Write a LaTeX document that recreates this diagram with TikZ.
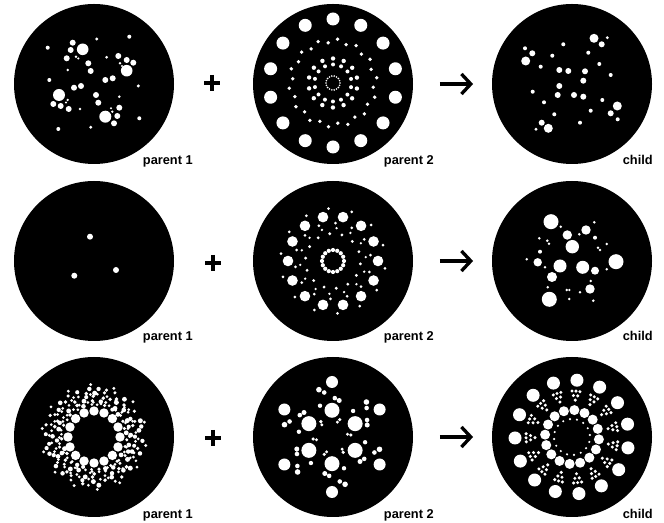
\documentclass[tikz,border=0pt]{standalone}
\usepackage{fontspec}
\setmainfont{Liberation Sans}
\usetikzlibrary{arrows.meta}

\tikzset{
  dish/.style={circle,fill=black,inner sep=0pt,minimum size=120pt},
  dot/.style={fill=white},
  lbl/.style={font=\bfseries\fontsize{9.6}{11}\selectfont,anchor=base east,inner sep=0pt},
  plus/.style={minimum size=12pt,inner sep=0pt,
    path picture={\draw[line width=3.4pt] (path picture bounding box.north) -- (path picture bounding box.south)
      (path picture bounding box.west) -- (path picture bounding box.east);}},
  arr/.style={line width=2.5pt,-{Straight Barb[length=7pt,width=15pt]},shorten <=20pt,shorten >=14pt},
}

\begin{document}
\begin{tikzpicture}[x=0.75pt,y=-0.75pt]
  \useasboundingbox (0,0) rectangle (664,523);
  % dishes
  \node[dish] (pa1) at (94,84) {};
  \node[dish] (pb1) at (333,84) {};
  \node[dish] (ch1) at (572,84) {};
  \node[dish] (pa2) at (94,261) {};
  \node[dish] (pb2) at (333,261) {};
  \node[dish] (ch2) at (572,261) {};
  \node[dish] (pa3) at (94,437) {};
  \node[dish] (pb3) at (333,437) {};
  \node[dish] (ch3) at (572,437) {};

  % row 1
  \foreach \x/\y/\r in {47.7/47.7/2,82.7/49.3/5.8,72.7/42.7/3,70.7/50/3,66.7/58.3/3,76/56.7/1.4,78.3/58.5/1.2,
    88.3/63.3/3,90.7/71/3,96.7/39/1.6,129.3/36.7/2,126.7/70.7/5.8,118.3/56/3,126.7/60/3,133.3/62.7/3,
    120/63.3/1.4,122/66/1.2,106.7/57.3/1.5,67.7/70/1.4,49.3/80/2,105.3/80/3,112.7/78.3/3,138.3/86/1.7,
    59/95/6,74/87.7/3,81/86/3,53.3/104/3,60.7/106/3,68.7/109/3,67.7/100/1.3,66/102.5/1.2,96/95/3,
    98.3/102.7/3,119.3/96.7/1.4,80/109/1.4,105.3/116.7/6,112.3/111.7/1.3,111/108.3/1.2,119.3/107.7/3,
    117.3/116/3,114/123.3/3,139.3/118.3/2,58.3/129/2,90.7/127.3/1.6}
    \fill[dot] (\x,\y) circle (\r);
  \begin{scope}[shift={(333,83)}]
    \foreach \k in {0,...,13} {
      \fill[dot] (90+\k*360/14:64) circle (6.5);
      \fill[dot] (\k*360/14+13:18.5) circle (2) (\k*360/14+13:24.5) circle (2.2);
    }
    \foreach \k in {0,...,27} {
      \pgfmathsetmacro\rr{mod(\k,2)==0 ? 40.5 : 44}
      \fill[dot] (\k*360/28+6:\rr) circle (1.9);
    }
    \foreach \k in {0,...,17} \fill[dot] (\k*20:7) circle (0.9);
  \end{scope}
  \foreach \x/\y/\r in {594/38.3/4.5,601.7/44.3/3,607.3/37.7/1.6,563.3/44.3/2,525/48.3/2,532.3/53.3/3,
    525.7/61/4.5,552.3/55.7/2,588.3/52.7/2,540.7/66.7/2,599.3/64/2,559.3/70/3,568.3/71/3,585/71.3/3,
    610.7/75/2,583.3/80.7/3,559.3/86/3,532.7/91.7/2,557.7/95/3,574/95/3,583.3/96.7/3,602.3/100/2,
    544/102.3/2,617.3/106/4.5,610.7/113.3/3,617.7/119.3/2,590.7/110.7/2,554.3/114.3/2,580/122.7/2,
    541.7/122.7/3,548.3/128.3/4.5,536/129.3/1.6}
    \fill[dot] (\x,\y) circle (\r);

  % row 2
  \foreach \x/\y in {90/236.7,74.3/275.7,116/270}
    \fill[dot] (\x,\y) circle (3);
  \begin{scope}[shift={(333,261)}]
    \foreach \k in {0,...,13} {
      \fill[dot] (\k*360/14:45) circle (5.3);
      \fill[dot] (\k*360/14+8:52.5) circle (1.5) (\k*360/14-9:38) circle (1.5);
      \fill[dot] (\k*360/14+6:27.5) circle (1.6) (\k*360/14+19:33) circle (1.3);
    }
    \foreach \k in {0,...,15} \fill[dot] (\k*22.5:11) circle (2.1);
  \end{scope}
  \foreach \x/\y/\r in {551/221.7/7.5,560.7/226.7/1.4,586/230/4.7,594.3/222.3/1.4,579.3/234.3/1.4,
    595/237.7/2,567.3/235/4.7,539.3/238.3/1.4,547.3/240.7/1.4,549/243.7/1.4,572.3/246.7/6.7,
    598/247.7/1.4,600/250/1.4,606.7/244/1.4,540/251.7/2,616/261.7/7.5,526.7/259.3/1.4,537.7/262.3/4.2,
    545/267.3/1.4,560/266/6.5,582.7/267.3/6.5,595/270.7/4,606.7/269.3/1.4,552/277/5,590.7/281/1.4,
    547.7/287.3/1.4,590/289/4.7,566.7/290/1.3,569.3/290/1.3,580/292.3/1.4,549.3/299.3/7.5,
    569.3/299/1.4,593.3/300.7/1.4}
    \fill[dot] (\x,\y) circle (\r);

  % row 3
  \begin{scope}[shift={(94,437)}]
    \foreach \k in {0,...,15} \fill[dot] (\k*22.5:26) circle (4.7);
    \pgfmathsetseed{42}
    \foreach \k in {0,...,27} {
      \foreach \rr in {32.5,36.5,40.5,44.5,48.5} {
        \pgfmathsetmacro\aa{\k*360/28+\rr*0.6+rnd*8-4}
        \pgfmathsetmacro\ss{1.4+rnd*1.1}
        \fill[dot] (\aa:\rr+rnd*2-1) circle (\ss);
      }
      \foreach \rr in {34.5,42.5} {
        \pgfmathsetmacro\aa{\k*360/28+6.4+\rr*0.6+rnd*6-3}
        \fill[dot] (\aa:\rr+rnd*2-1) circle (1.5);
      }
    }
    \foreach \k in {0,...,13} \fill[dot] (\k*360/14+35:52.5) circle (1.6);
  \end{scope}
  \begin{scope}[shift={(332,437)}]
    \foreach \t in {-90,-30,30,90,150,210} {
      \fill[dot] (\t:26.7) circle (7.5) (\t:55) circle (6);
      \fill[dot] (\t-4:42) +(\t+118:-11.5) circle (2.8) +(\t+118:-5.5) circle (2.3)
        +(\t+118:6.5) circle (2.3) +(\t+118:11.5) circle (2.5);
      \fill[dot] (\t-21:33.5) circle (2.2) (\t+24:19) circle (1.8) (\t+20:15.8) circle (1.6);
    }
  \end{scope}
  \begin{scope}[shift={(572,437)}]
    \foreach \k in {0,...,15} {
      \fill[dot] (\k*22.5+5:27) circle (5) (\k*22.5+16:18) circle (1.2);
    }
    \foreach \k in {0,...,14} {
      \pgfmathsetmacro\t{-85+\k*24}
      \fill[dot] (\t:57) circle (6.5);
      \fill[dot] (\t-5:46) circle (1.7) (\t:46) circle (1.7) (\t+5:46) circle (1.7)
        (\t-3:41.5) circle (1.7) (\t+3:41.5) circle (1.7) (\t:37) circle (1.7);
    }
  \end{scope}

  % operators
  \node[plus] (pl1) at (212,83) {};
  \node[plus] (pl2) at (213,263) {};
  \node[plus] (pl3) at (213,438) {};
  \draw[arr] (pb1) -- (ch1);
  \draw[arr] (pb2) -- (ch2);
  \draw[arr] (pb3) -- (ch3);

  % labels
  \node[lbl] (la1) at (193,165) {parent 1};
  \node[lbl] (lb1) at (434,165) {parent 2};
  \node[lbl] (lc1) at (653,165) {child};
  \node[lbl] (la2) at (193,341) {parent 1};
  \node[lbl] (lb2) at (434,341) {parent 2};
  \node[lbl] (lc2) at (653,341) {child};
  \node[lbl] (la3) at (193,518) {parent 1};
  \node[lbl] (lb3) at (434,518) {parent 2};
  \node[lbl] (lc3) at (653,518) {child};
\end{tikzpicture}
\end{document}
